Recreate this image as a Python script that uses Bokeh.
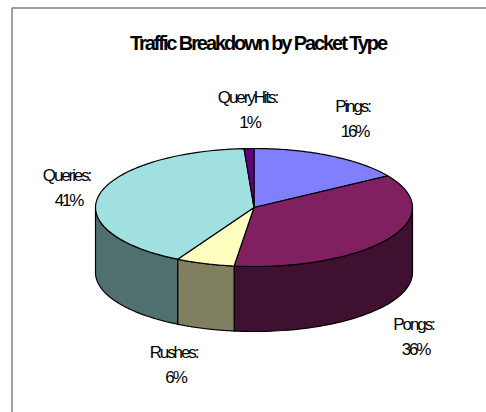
import math
from bokeh.embed import file_html
from bokeh.models import Range1d
from bokeh.plotting import figure
from bokeh.resources import INLINE
from bokeh.core.properties import value

# Packet types, clockwise from twelve o'clock
categories = ["Pings", "Pongs", "Rushes", "Queries", "QueryHits"]
shares = [16, 36, 6, 41, 1]
top_colors = ["#8080FF", "#802060", "#FFFFC0", "#A0E0E0", "#600080"]
side_colors = ["#404080", "#401030", "#808060", "#507070", "#300040"]
title_text = "Traffic Breakdown by Packet Type"

# Centre of each two-line label, in page pixels
label_x = [352, 413, 173, 66, 247]
label_y = [106, 324, 352, 175, 97]
label_line_gap = 25
value_dx = 2

# Lettering tracking in pixels; text is placed from its untracked width,
# so centred strings are nudged back by half of the tracking they lose
tracking = 2.1

# Projected pie geometry
cx, cy, rx, ry, depth = 253.5, 207, 158.5, 59, 65

W, H = 486, 412
p = figure(width=W, height=H, output_backend="svg", toolbar_location=None,
           x_range=Range1d(0, W), y_range=Range1d(H, 0),
           min_border=0, outline_line_color=None, background_fill_color="white")
p.axis.visible = False
p.grid.visible = False
p.stylesheets = [":host { letter-spacing: -%.2fpx; }" % tracking]


def rim(t0, t1, n=60, dy=0.0):
    ts = [t0 + (t1 - t0) * i / n for i in range(n + 1)]
    xs = [cx + rx * math.sin(t) for t in ts]
    ys = [cy + dy - ry * math.cos(t) for t in ts]
    return xs, ys


def centred(x, s):
    return x + len(s) * tracking / 2


# Chart area frame along the left and top edges
p.line([11.5, 11.5, W], [H, 7.5, 7.5], line_color="#808080", line_width=1.5)

total = sum(shares)
edges = [0.0]
for s in shares:
    edges.append(edges[-1] + s / total * 2 * math.pi)

# Side walls: only the part of the rim that faces the viewer
for i, c in enumerate(side_colors):
    a = max(edges[i], math.pi / 2)
    b = min(edges[i + 1], 3 * math.pi / 2)
    if a >= b:
        continue
    x0, y0 = rim(a, b)
    x1, y1 = rim(a, b, dy=depth)
    p.patch(x0 + x1[::-1], y0 + y1[::-1], fill_color=c, line_color="black", line_width=1.2)

# Top faces
for i, c in enumerate(top_colors):
    xs, ys = rim(edges[i], edges[i + 1])
    p.patch([cx] + xs, [cy] + ys, fill_color=c, line_color="black", line_width=1.2)

p.text([centred(257.5, title_text)], [42], text=[title_text], text_font=value("Liberation Sans"),
       text_font_size="20px", text_font_style="bold", text_align="center",
       text_baseline="middle", text_color="black")

for name, s, x, y in zip(categories, shares, label_x, label_y):
    head, val = f"{name}:", f"{s}%"
    p.text([centred(x, head), centred(x + value_dx, val)], [y, y + label_line_gap],
           text=[head, val], text_font=value("Liberation Sans"), text_font_size="17px",
           text_align="center", text_baseline="middle", text_color="black")

open("out.html", "w").write(file_html(p, INLINE))
